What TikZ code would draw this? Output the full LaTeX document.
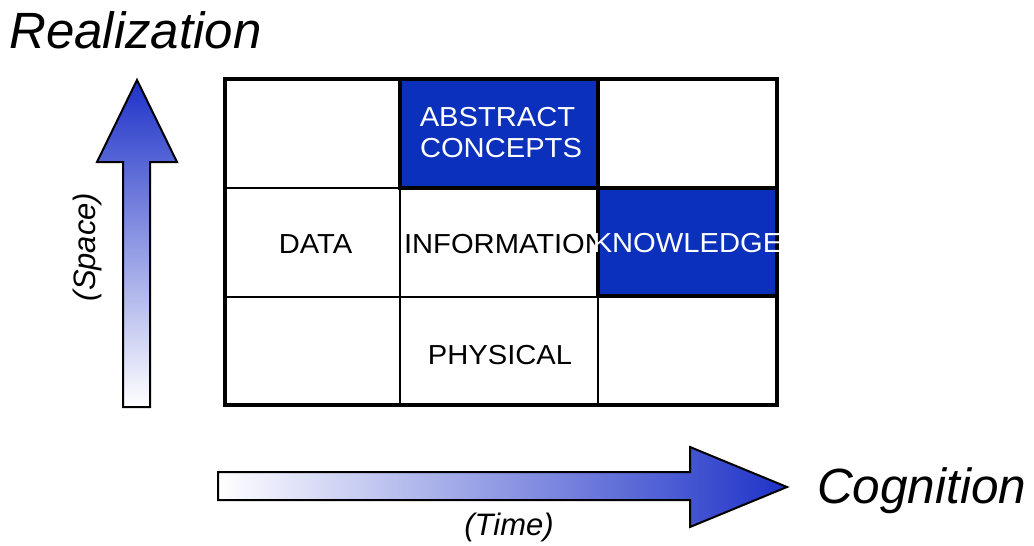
\documentclass[tikz,border=0pt]{standalone}
\usepackage{fontspec}
\setmainfont{Liberation Sans}
\newfontfamily\cellfont[FakeStretch=1.06]{Liberation Sans}
\definecolor{cellblue}{RGB}{10,48,188}
\definecolor{arrowblue}{RGB}{30,50,200}
\tikzset{
  celltext/.style={inner sep=0pt, font=\cellfont\fontsize{27.5}{32}\selectfont},
  bigtext/.style={inner sep=0pt, font=\fontsize{51}{60}\selectfont\itshape},
  axistext/.style={inner sep=0pt, font=\fontsize{31}{36}\selectfont\itshape},
  thinline/.style={line width=2pt, black},
  thickline/.style={line width=4.8pt, black},
  bluecell/.style={fill=cellblue},
  fatarrow/.style={draw=black, line width=2pt, line join=miter}
}
\begin{document}
\begin{tikzpicture}[x=1pt, y=-1pt]
\useasboundingbox (0,0) rectangle (1034,546);

% arrows
\path[fatarrow, top color=arrowblue, bottom color=white]
  (123,407) -- (123,162) -- (97,162) -- (137,80) -- (177,162) -- (150,162) -- (150,407) -- cycle;
\path[fatarrow, left color=white, right color=arrowblue]
  (218,472) -- (690,472) -- (690,447) -- (787,487) -- (690,527) -- (690,500) -- (218,500) -- cycle;

% black cell texts
\node[celltext] (data) at (315.5,244.5) {DATA};
\node[celltext] (info) at (505,244.5) {INFORMATION};
\node[celltext] (phys) at (500,355) {PHYSICAL};

% blue cells
\fill[bluecell] (400,79) rectangle (598,188);
\fill[bluecell] (598,188) rectangle (777,296);

% thin grid lines
\draw[thinline] (400,79) -- (400,405);
\draw[thinline] (598,79) -- (598,405);
\draw[thinline] (225,188) -- (777,188);
\draw[thinline] (225,297) -- (777,297);

% thick borders
\draw[thickline] (400,79) rectangle (598,188);
\draw[thickline] (598,188) rectangle (777,296);
\draw[thickline] (225,79) rectangle (777,405);

% white texts
\node[celltext, text=white] (abs) at (497.5,117.5) {ABSTRACT};
\node[celltext, text=white] (conc) at (501,148.5) {CONCEPTS};
\node[celltext, text=white] (know) at (687.5,243.5) {KNOWLEDGE};

% axis labels
\node[bigtext, anchor=base west] (real) at (9,48) {Realization};
\node[bigtext, anchor=base west, font=\fontsize{49.5}{58}\selectfont\itshape] (cog) at (817,503) {Cognition};
\node[axistext, anchor=base] (time) at (509,535) {(Time)};
\node[axistext, anchor=base, rotate=90] (space) at (95,247) {(Space)};
\end{tikzpicture}
\end{document}
